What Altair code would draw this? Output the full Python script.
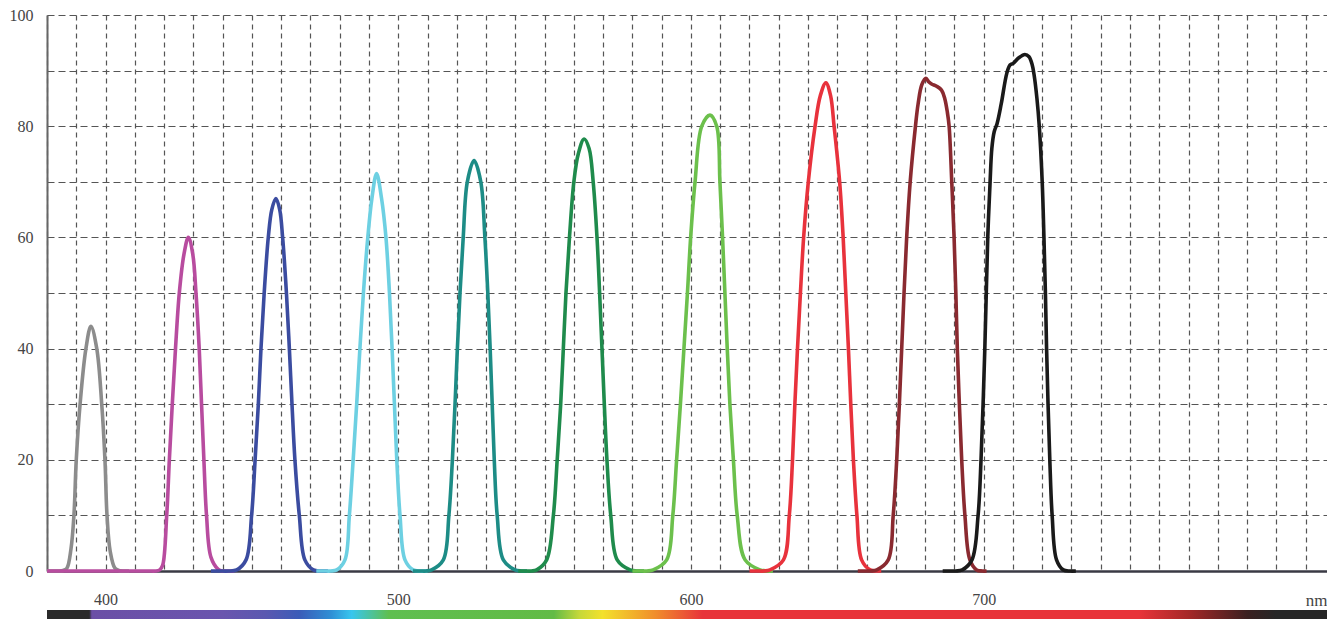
import altair as alt
import pandas as pd

# ---- data -------------------------------------------------------------------
filters = ["F395", "F428", "F458", "F492", "F526", "F563", "F606", "F646", "F680", "F714"]
colors = ["#8c8c8c", "#b84c9f", "#3b4ca0", "#6dd0e2", "#1d8c86",
          "#1f8b4c", "#6cc04c", "#e8323c", "#8a2a30", "#1a1a1a"]

grey_nm = [380, 382, 384, 385.5, 386.8, 388.2, 389.2, 390, 391.3, 393.3, 395, 397, 398.7, 399.8, 400.5, 401.6, 403.2, 404.5, 406, 408]
grey_t = [0, 0, 0, 0.1, 0.5, 4, 10, 20, 30, 40, 44, 40, 30, 20, 10, 3.5, 0.5, 0.1, 0, 0]

mag_nm = [380, 395, 405, 412, 415, 417, 418.5, 419.5, 420.9, 421.8, 422.8, 423.9, 425.2, 426.8, 428.3, 429.8, 430.9, 432, 432.8, 433.6, 434.5, 436, 438.5, 440, 442, 444]
mag_t = [0, 0, 0, 0, 0, 0, 0.2, 1, 10, 20, 30, 40, 50, 57, 60, 57, 50, 40, 30, 20, 10, 2.5, 0.3, 0, 0, 0]

blue_nm = [436, 439, 442, 444.8, 448, 449.9, 451.1, 452.2, 453.1, 454.2, 455.6, 456.8, 458.2, 459.5, 460.5, 461.8, 462.8, 463.7, 464.7, 466.2, 468.1, 471, 473.5, 476]
blue_t = [0, 0, 0, 0.2, 2, 10, 20, 30, 40, 50, 60, 65, 67, 65, 60, 50, 40, 30, 20, 10, 2, 0.2, 0, 0]

cyan_nm = [472, 474.5, 477, 479, 481.8, 483.3, 484.6, 485.8, 486.9, 488.1, 489.6, 491, 492.6, 494.3, 495.8, 497, 497.9, 498.7, 499.5, 500.6, 502.3, 505.1, 507.5, 510]
cyan_t = [0, 0, 0, 0.2, 2, 10, 20, 30, 40, 50, 60, 67, 71.5, 67, 60, 50, 40, 30, 20, 10, 2, 0.2, 0, 0]

teal_nm = [505, 507.5, 509.5, 511.4, 515.4, 517.3, 518.5, 519.4, 520.2, 521.1, 522.2, 523.6, 525.9, 528.2, 529.6, 530.6, 531.4, 532.1, 532.8, 533.8, 535.9, 539.9, 542, 544]
teal_t = [0, 0, 0, 0.2, 2, 10, 20, 30, 40, 50, 60, 70, 73.8, 70, 60, 50, 40, 30, 20, 10, 2, 0.2, 0, 0]

dgreen_nm = [541, 543.5, 545.5, 547.3, 550.7, 553, 554.3, 555.5, 556.4, 557.3, 558.5, 560, 561.5, 563.5, 565.2, 566.6, 567.9, 568.8, 569.6, 570.4, 571.3, 572.6, 574.8, 579.2, 581.5, 584]
dgreen_t = [0, 0, 0, 0.2, 2, 10, 20, 30, 40, 50, 60, 70, 75, 77.7, 76, 70, 60, 50, 40, 30, 20, 10, 2, 0.2, 0, 0]

lgreen_nm = [580, 582.5, 585, 587.1, 591.7, 593.8, 595.1, 596.4, 597.6, 598.8, 599.9, 601.4, 603.7, 606.5, 608.8, 609.9, 610.8, 611.6, 612.4, 613.3, 614.5, 615.8, 618.5, 623.6, 626, 628]
lgreen_t = [0, 0, 0, 0.2, 2, 10, 20, 30, 40, 50, 60, 70, 80, 82, 80, 70, 60, 50, 40, 30, 20, 10, 2, 0.2, 0, 0]

red_nm = [620, 622.5, 625, 627, 631.6, 633.6, 634.7, 635.5, 636.4, 637.4, 638.5, 640.1, 642.4, 644.2, 646.1, 647.7, 648.9, 650.8, 652, 652.9, 653.8, 654.6, 655.5, 656.7, 658.3, 661.2, 663.5, 665]
red_t = [0, 0, 0, 0.2, 2, 10, 20, 30, 40, 50, 60, 70, 80, 85.5, 87.8, 85.5, 80, 70, 60, 50, 40, 30, 20, 10, 2, 0.2, 0, 0]

maroon_nm = [657, 659.5, 661.5, 663.5, 667.4, 669.1, 670.3, 671.2, 672, 672.8, 673.7, 674.9, 676.7, 677.6, 678.9, 680.3, 681.2, 682.2, 683.9, 685.6, 686.7, 687.6, 688.2, 689.1, 689.9, 690.5, 691, 691.7, 692.5, 693.6, 695.3, 697.6, 699.5, 701]
maroon_t = [0, 0, 0, 0.2, 2, 10, 20, 30, 40, 50, 60, 70, 80, 84, 87.5, 88.6, 88, 87.6, 87.2, 86.5, 85, 82.5, 80, 70, 60, 50, 40, 30, 20, 10, 2, 0.2, 0, 0]

black_nm = [686, 688.5, 690.5, 692.7, 696, 698.1, 699.1, 699.8, 700.4, 700.9, 701.4, 702.2, 702.8, 703.6, 704.6, 706, 707.9, 709, 710.1, 712, 714.1, 715.5, 716.6, 717.3, 718.2, 719, 720, 720.6, 721.1, 721.5, 722, 722.6, 723.4, 724.9, 727.2, 729.5, 731.5]
black_t = [0, 0, 0, 0.2, 2, 10, 20, 30, 40, 50, 60, 70, 76, 79, 80.5, 84, 89.5, 91, 91.3, 92.3, 92.9, 92.5, 91, 89, 85, 80, 70, 60, 50, 40, 30, 20, 10, 2, 0.2, 0, 0]

x_labels = [400, 500, 600, 700]
y_labels = [0, 20, 40, 60, 80, 100]
spectrum_range = [380, 817.3]

# ---- build table ---------------------------------------------------------------
series = [
    (filters[0], grey_nm, grey_t), (filters[1], mag_nm, mag_t),
    (filters[2], blue_nm, blue_t), (filters[3], cyan_nm, cyan_t),
    (filters[4], teal_nm, teal_t), (filters[5], dgreen_nm, dgreen_t),
    (filters[6], lgreen_nm, lgreen_t), (filters[7], red_nm, red_t),
    (filters[8], maroon_nm, maroon_t), (filters[9], black_nm, black_t),
]
rows = []
for name, nms, ts in series:
    for a, b in zip(nms, ts):
        rows.append({"filter": name, "nm": a, "T": b})
df = pd.DataFrame(rows)

x_grid = list(range(380, 811, 10))
y_grid = list(range(0, 101, 10))

x_scale = alt.Scale(domain=spectrum_range, nice=False, zero=False)
y_scale = alt.Scale(domain=[0, 100], nice=False)

FONT = "Liberation Serif"
PLOT_W = 1280
PLOT_H = 556

x_axis = alt.Axis(
    values=x_grid,
    labelExpr="indexof([%s], datum.value) >= 0 ? datum.label : ''" % ",".join(str(v) for v in x_labels),
    labelOverlap=False, labelFlush=False,
    grid=True, gridDash=[5, 4], gridColor="#555555", gridWidth=1.2, gridOpacity=1,
    ticks=False, domain=True, domainColor="#3a3a44", domainWidth=2.5,
    labelPadding=20, labelFont=FONT, labelFontSize=16, labelColor="#444444",
    title="nm", titleX=PLOT_W, titleY=29, titleAlign="right", titleBaseline="middle",
    titleFont=FONT, titleFontSize=17, titleFontWeight="normal", titleColor="#444444",
)
y_axis = alt.Axis(
    values=y_grid,
    labelExpr="indexof([%s], datum.value) >= 0 ? datum.label : ''" % ",".join(str(v) for v in y_labels),
    labelOverlap=False, labelFlush=False,
    grid=True, gridDash=[7, 4], gridColor="#555555", gridWidth=1.2, gridOpacity=1,
    ticks=False, domain=True, domainColor="#666666", domainWidth=2,
    labelPadding=14, labelFont=FONT, labelFontSize=16, labelColor="#444444",
    title=None,
)

lines = alt.Chart(df).mark_line(strokeWidth=3.6, interpolate="catmull-rom").encode(
    x=alt.X("nm:Q", scale=x_scale, axis=x_axis),
    y=alt.Y("T:Q", scale=y_scale, axis=y_axis),
    color=alt.Color("filter:N", scale=alt.Scale(domain=filters, range=colors), legend=None),
)

grad = alt.Gradient(
    gradient="linear", x1=0, x2=1, y1=0, y2=0,
    stops=[
        alt.GradientStop(color="#2a2a2a", offset=0),
        alt.GradientStop(color="#2a2a2a", offset=0.033),
        alt.GradientStop(color="#6b4fa6", offset=0.035),
        alt.GradientStop(color="#6a55ae", offset=0.137),
        alt.GradientStop(color="#5a58b0", offset=0.171),
        alt.GradientStop(color="#3b5cb8", offset=0.197),
        alt.GradientStop(color="#2f8fd5", offset=0.222),
        alt.GradientStop(color="#38c6ee", offset=0.238),
        alt.GradientStop(color="#5fbf50", offset=0.267),
        alt.GradientStop(color="#62bb46", offset=0.396),
        alt.GradientStop(color="#c6d83a", offset=0.416),
        alt.GradientStop(color="#f3e12b", offset=0.434),
        alt.GradientStop(color="#f08c2c", offset=0.476),
        alt.GradientStop(color="#e8343a", offset=0.512),
        alt.GradientStop(color="#e8343a", offset=0.853),
        alt.GradientStop(color="#a52828", offset=0.892),
        alt.GradientStop(color="#3a2020", offset=0.938),
        alt.GradientStop(color="#262626", offset=0.960),
        alt.GradientStop(color="#262626", offset=1),
    ],
)

strip_df = pd.DataFrame({"start": [spectrum_range[0]], "end": [spectrum_range[1]]})
strip = alt.Chart(strip_df).mark_rect(fill=grad).encode(
    x=alt.X("start:Q", scale=x_scale, axis=x_axis),
    x2="end:Q",
    y=alt.value(PLOT_H + 39),
    y2=alt.value(PLOT_H + 48),
)

chart = alt.layer(strip, lines).properties(
    width=PLOT_W, height=PLOT_H,
    autosize=alt.AutoSizeParams(type="none"),
    padding={"left": 39, "top": 7, "right": 0, "bottom": 48},
    background="white",
).configure_view(stroke=None)

chart.save("out.html", embed_options={"renderer": "svg", "actions": False})
